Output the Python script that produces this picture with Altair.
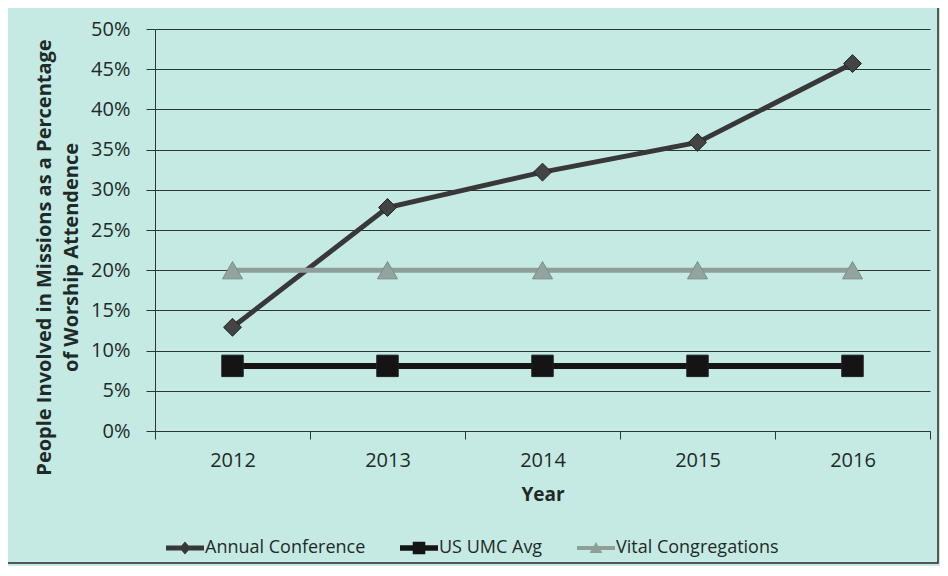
import altair as alt
import pandas as pd

years = ["2012", "2013", "2014", "2015", "2016"]
annual_conference = [12.9, 27.8, 32.2, 35.9, 45.7]
us_umc_avg = [8.1, 8.1, 8.1, 8.1, 8.1]
vital_congregations = [20.0, 20.0, 20.0, 20.0, 20.0]

series_names = ["Annual Conference", "US UMC Avg", "Vital Congregations"]
series_values = [annual_conference, us_umc_avg, vital_congregations]
line_colors = ["#383838", "#141414", "#8e9e99"]
marker_colors = ["#444444", "#141414", "#93a39e"]
marker_shapes = ["diamond", "square", "triangle-up"]
marker_sizes = [320, 460, 400]
line_widths = [5, 6, 5]
legend_shapes = [
    "M-1,-0.13H1V0.13H-1Z M0,-0.34L0.3,0L0,0.34L-0.3,0Z",
    "M-1,-0.15H1V0.15H-1Z M-0.33,-0.33H0.33V0.33H-0.33Z",
    "M-1,-0.11H1V0.11H-1Z M0,-0.32L0.34,0.26L-0.34,0.26Z",
]
y_ticks = [0, 0.05, 0.10, 0.15, 0.20, 0.25, 0.30, 0.35, 0.40, 0.45, 0.50]
y_title = ["People Involved in Missions as a Percentage", "of Worship Attendence"]

FONT = "Open Sans"
INK = "#1f2a28"
GRID = "#2c3836"
BG = "#c4eae3"

rows = []
for name, vals in zip(series_names, series_values):
    for yr, v in zip(years, vals):
        rows.append({"Year": yr, "Series": name, "Value": v / 100})
df = pd.DataFrame(rows)

x_enc = alt.X(
    "Year:N",
    sort=years,
    bandPosition=0.5,
    scale=alt.Scale(type="band", paddingInner=0, paddingOuter=0),
    axis=alt.Axis(
        title="Year",
        labelAngle=0,
        tickBand="extent",
        grid=False,
        domainColor=GRID,
        tickColor=GRID,
        tickSize=8,
        labelFont=FONT,
        labelFontSize=20,
        labelColor=INK,
        labelPadding=11,
        titleFont=FONT,
        titleFontSize=19,
        titleFontWeight="bold",
        titleColor=INK,
        titlePadding=15,
    ),
)

y_enc = alt.Y(
    "Value:Q",
    scale=alt.Scale(domain=[0, 0.5], nice=False),
    axis=alt.Axis(
        values=y_ticks,
        format=".0%",
        grid=True,
        gridColor=GRID,
        gridWidth=1.2,
        domainColor=GRID,
        tickColor=GRID,
        tickSize=9,
        labelFont=FONT,
        labelFontSize=20,
        labelColor=INK,
        labelPadding=16,
        title=y_title,
        titleFont=FONT,
        titleFontSize=20,
        titleFontWeight="bold",
        titleColor=INK,
        titleLineHeight=27,
        titleAngle=270,
        titleAlign="center",
        titleBaseline="middle",
        titleX=-111,
        titleY=228,
    ),
)

base = alt.Chart(df)

layers = []
frame = alt.Chart(pd.DataFrame({"k": [0]})).mark_rect(
    fill=BG, fillOpacity=0, stroke="#2a2a2a", strokeWidth=1.5
).encode(
    x=alt.value(-152), x2=alt.value(783), y=alt.value(-25), y2=alt.value(534)
)
layers.append(frame)

for i, name in enumerate(series_names):
    sub = base.transform_filter(alt.datum.Series == name)
    layers.append(
        sub.mark_line(color=line_colors[i], strokeWidth=line_widths[i]).encode(x=x_enc, y=y_enc)
    )
    layers.append(
        sub.mark_point(
            shape=marker_shapes[i],
            size=marker_sizes[i],
            filled=True,
            color=marker_colors[i],
            stroke="#222222" if i < 2 else "#7d8d88",
            strokeWidth=1,
            opacity=1,
        ).encode(x=x_enc, y=y_enc)
    )

legend_def = alt.Legend(
    title=None,
    orient="none",
    legendX=11,
    legendY=500,
    direction="horizontal",
    padding=0,
    labelFont=FONT,
    labelFontSize=18,
    labelColor=INK,
    labelLimit=0,
    labelOffset=1,
    columnPadding=34,
    symbolSize=1444,
    symbolStrokeWidth=0,
    symbolOpacity=1,
)
legend_layer = base.mark_point(filled=True, opacity=0).encode(
    x=x_enc,
    y=y_enc,
    color=alt.Color(
        "Series:N",
        sort=series_names,
        scale=alt.Scale(domain=series_names, range=line_colors),
        legend=legend_def,
    ),
    shape=alt.Shape(
        "Series:N",
        sort=series_names,
        scale=alt.Scale(domain=series_names, range=legend_shapes),
        legend=legend_def,
    ),
)
layers.append(legend_layer)

chart = (
    alt.layer(*layers)
    .properties(
        width=775,
        height=402,
        background=BG,
        padding={"left": 147, "top": 21, "right": 10, "bottom": 135},
        autosize=alt.AutoSizeParams(type="none"),
    )
    .configure_view(stroke=None)
)

chart.save("out.html", embed_options={"renderer": "svg", "actions": False})
